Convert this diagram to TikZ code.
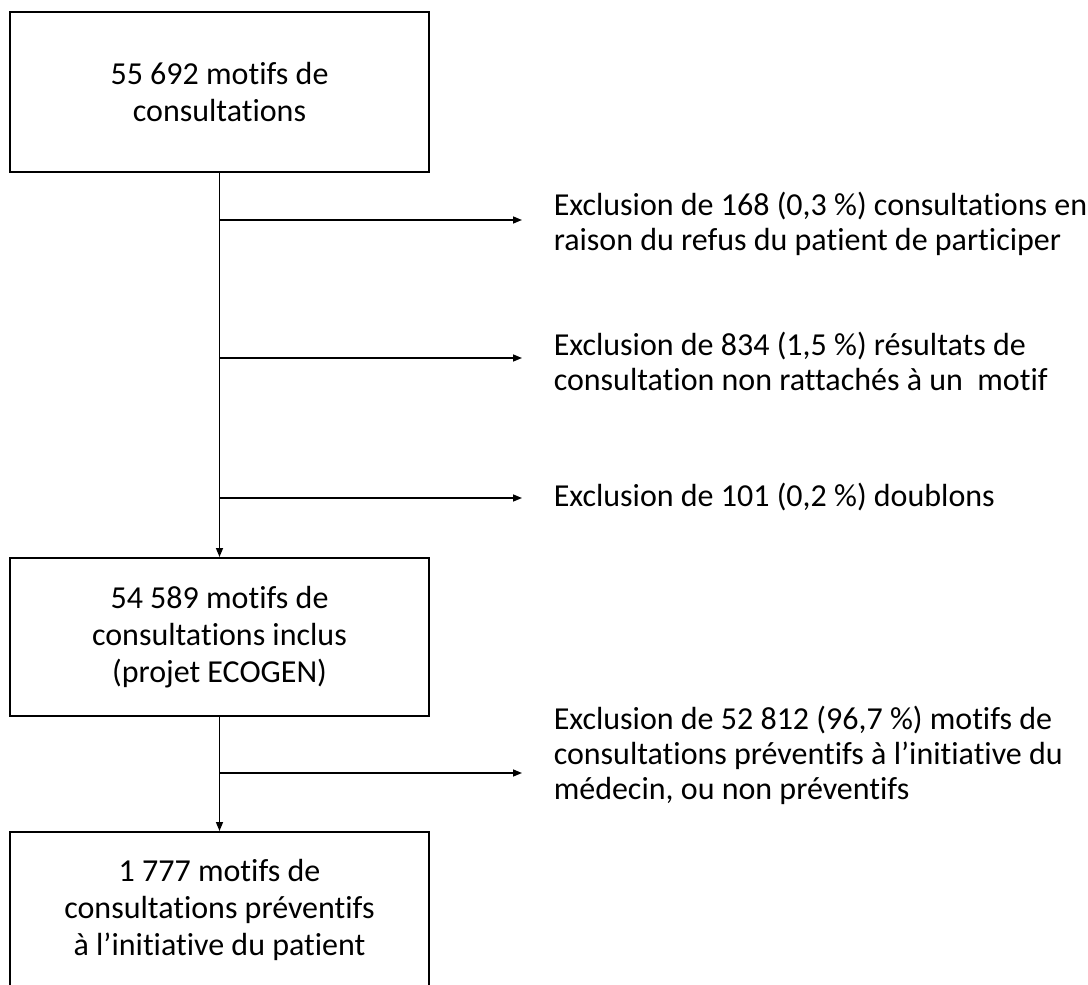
\documentclass[tikz,border=0pt]{standalone}
\usepackage{fontspec}
\setmainfont{Carlito}[Ligatures=NoCommon]
\usetikzlibrary{arrows.meta,calc}

\begin{document}
\begin{tikzpicture}[x=0.5pt, y=-0.5pt, >={Triangle[length=4.5pt,width=3.5pt]}, line width=0.75pt,
    etape/.style={draw, line width=1pt, minimum width=209.5pt, align=center,
        font=\fontsize{16}{18.5}\selectfont},
    exclu/.style={anchor=west, inner sep=0pt, align=left, font=\fontsize{16}{17.5}\selectfont}]
    \useasboundingbox (0,0) rectangle (1088,985);

    % Cadres principaux
    \node[etape, minimum height=80pt] (b1) at (219.5,92) {55 692 motifs de\\consultations};
    \node[etape, minimum height=79pt] (b2) at (219.5,637) {54 589 motifs de\\consultations inclus\\(projet ECOGEN)};
    \node[etape, minimum height=78pt] (b3) at (219.5,910) {1 777 motifs de\\consultations préventifs\\à l’initiative du patient};

    % Textes des exclusions
    \node[exclu] (e1) at (553,224) {Exclusion de 168 (0,3 \%) consultations en\\raison du refus du patient de participer};
    \node[exclu] (e2) at (553,361) {Exclusion de 834 (1,5 \%) résultats de\\consultation non rattachés à un\ \ motif};
    \node[exclu] (e3) at (553,497) {Exclusion de 101 (0,2 \%) doublons};
    \node[exclu] (e4) at (553,755) {Exclusion de 52 812 (96,7 \%) motifs de\\consultations préventifs à l’initiative du\\médecin, ou non préventifs};

    % Points de branchement
    \coordinate (j1) at (219.5,220);
    \coordinate (j2) at (219.5,358);
    \coordinate (j3) at (219.5,498);
    \coordinate (j4) at (219.5,773);

    % Fleches verticales
    \draw[->] (b1.south) -- (b2.north);
    \draw[->] (b2.south) -- (b3.north);

    % Fleches vers les exclusions
    \foreach \j/\e in {j1/e1, j2/e2, j3/e3, j4/e4} {
        \draw[->, shorten >=15.5pt] (\j) -- (\j -| \e.west);
    }
\end{tikzpicture}
\end{document}
